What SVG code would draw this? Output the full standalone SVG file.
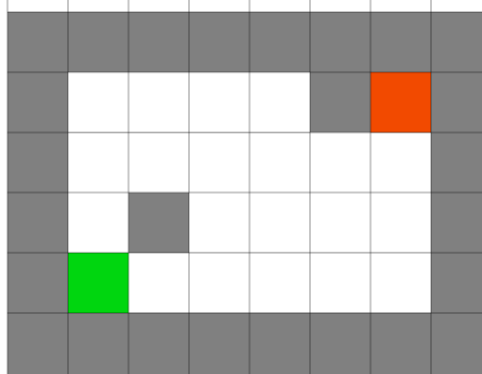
<svg xmlns="http://www.w3.org/2000/svg" width="482" height="374" viewBox="0 0 482 374">
<style>
.w{fill:#ffffff}
.g{fill:#808080}
.o{fill:#f24a00}
.s{fill:#00d60f}
.ln{stroke:#000;stroke-opacity:0.22;stroke-width:2}
</style>
<rect x="0" y="0" width="482" height="374" fill="#ffffff"/>
<g id="cells" transform="translate(7.5,12)">
<!-- outer wall -->
<rect class="g" x="0" y="0" width="484" height="362"/>
<!-- open interior -->
<rect class="w" x="60.5" y="60.2" width="242" height="60.2"/>
<rect class="w" x="60.5" y="120.4" width="363" height="120.4"/>
<rect class="w" x="60.5" y="240.6" width="363" height="60.2"/>
<!-- inner walls -->
<rect id="wall1" class="g" x="121" y="180.6" width="60.5" height="60.2"/>
<!-- goal and start -->
<rect id="goal" class="o" x="363" y="60.2" width="60.5" height="60.2"/>
<rect id="start" class="s" x="60.5" y="240.8" width="60.5" height="60.2"/>
</g>
<g id="gridlines" class="ln">
<line x1="7.5" y1="0" x2="7.5" y2="374"/>
<line x1="68" y1="0" x2="68" y2="374"/>
<line x1="128.5" y1="0" x2="128.5" y2="374"/>
<line x1="189" y1="0" x2="189" y2="374"/>
<line x1="249.5" y1="0" x2="249.5" y2="374"/>
<line x1="310" y1="0" x2="310" y2="374"/>
<line x1="370.5" y1="0" x2="370.5" y2="374"/>
<line x1="431" y1="0" x2="431" y2="374"/>
<line x1="7.5" y1="12" x2="482" y2="12"/>
<line x1="7.5" y1="72.2" x2="482" y2="72.2"/>
<line x1="7.5" y1="132.4" x2="482" y2="132.4"/>
<line x1="7.5" y1="192.6" x2="482" y2="192.6"/>
<line x1="7.5" y1="252.8" x2="482" y2="252.8"/>
<line x1="7.5" y1="313" x2="482" y2="313"/>
</g>
</svg>
